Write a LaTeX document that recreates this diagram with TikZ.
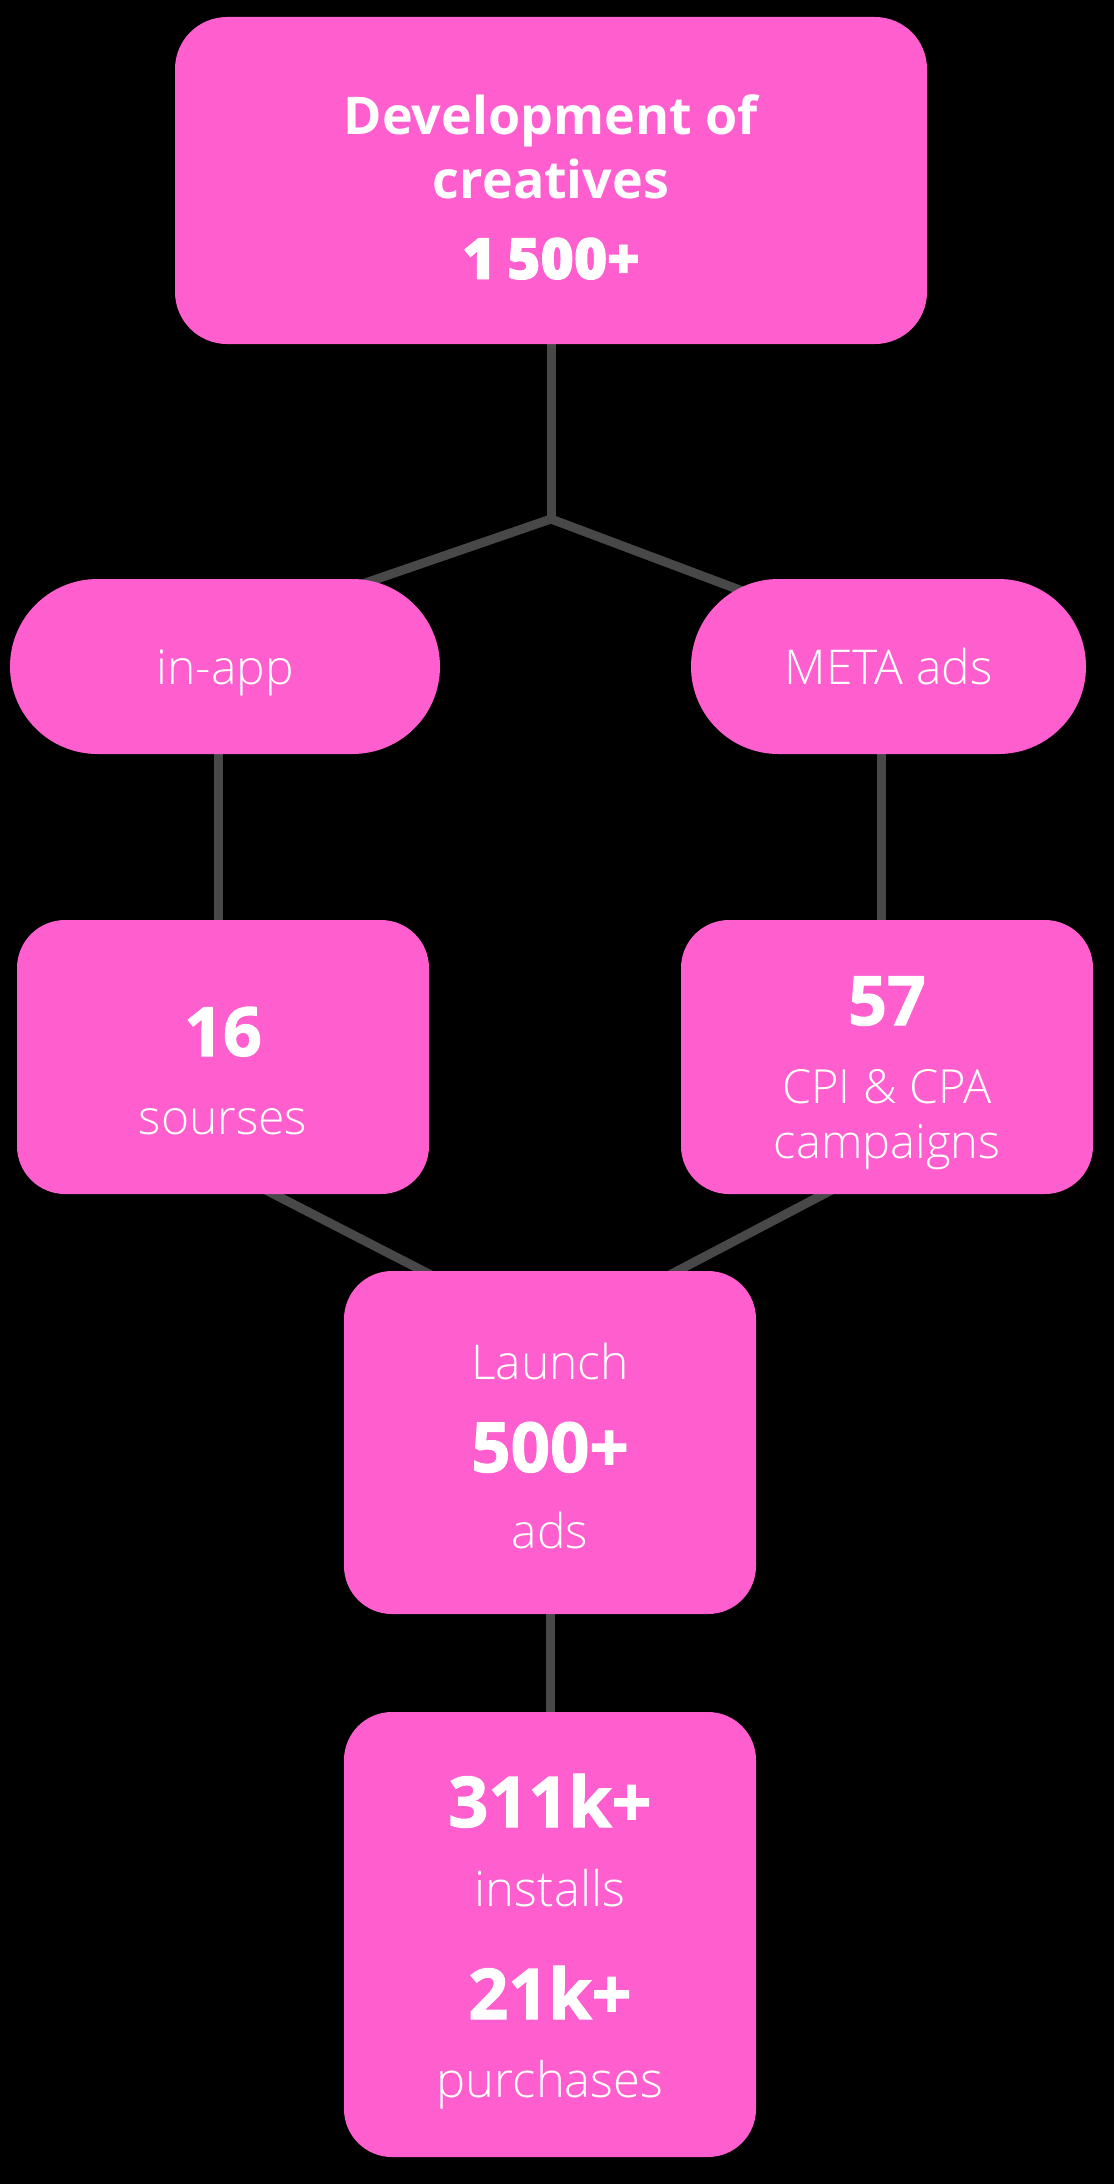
\documentclass[tikz,border=0pt]{standalone}
\usepackage{fontspec}
\setmainfont{Open Sans}[UprightFont=* Light, BoldFont=* Bold]
\newfontfamily\heavyfont{Open Sans Bold}[FakeBold=1.6]
\usepackage{tikz}
\usetikzlibrary{calc}
\usepackage{xcolor}

\definecolor{flamingo}{HTML}{FF5ECF}
\definecolor{wiregray}{HTML}{484848}
\pgfdeclarelayer{paper}
\pgfdeclarelayer{wires}
\pgfsetlayers{paper,wires,main}

% every line gets a fixed height, so the baselines sit where the picture has them
\newcommand{\row}[2]{\rule{0pt}{#1pt}\smash{#2}}
\newcommand{\downstrut}[1]{\rule[-#1pt]{0pt}{#1pt}}
\newcommand{\bignum}[1]{\fontsize{#1}{0}\heavyfont}
\newcommand{\thinline}[1]{\fontsize{#1}{0}\normalfont}
\newcommand{\gap}{\hspace{0.27em}}

\tikzset{
    card/.style={fill=flamingo, text=white, rounded corners=48pt, inner sep=0pt,
        align=center, text width=412pt,
        font={\baselineskip=0pt\lineskip=0pt\lineskiplimit=0pt}},
    pill/.style={card, rounded corners=87.5pt},
    wire/.style={draw=wiregray, line width=9pt},
}

\begin{document}
\begin{tikzpicture}[x=1pt, y=-1pt]
        \useasboundingbox (0,0) rectangle (1114,2184);
        \begin{pgfonlayer}{paper}
            \fill[black] (0,0) rectangle (1114,2184);
        \end{pgfonlayer}

        \node[card, rounded corners=52pt, text width=752pt] (creatives) at (551,180.5)
            {\thinline{52}\bfseries\row{117}{Development\gap of}\\
             \thinline{52}\bfseries\row{64}{creatives}\\
             \bignum{57}\row{81}{1\hspace{0.2em}500+}\downstrut{65}};

        \node[pill, text width=430pt] (inapp) at (225,666.5)
            {\thinline{48}\row{105}{in-app}\downstrut{70}};
        \node[pill, text width=395pt] (meta) at (888.5,666.5)
            {\thinline{48}\row{105}{META\gap ads}\downstrut{70}};

        \node[card] (sources) at (223,1057)
            {\bignum{68}\row{136}{16}\\
             \thinline{48}\row{78}{sourses}\downstrut{60}};
        \node[card] (campaigns) at (887,1057)
            {\bignum{68}\row{105}{57}\\
             \thinline{47}\row{78}{CPI\gap\&\gap CPA}\\
             \thinline{47}\row{55}{campaigns}\downstrut{36}};

        \node[card] (launch) at (550,1442.5)
            {\thinline{48}\row{108}{Launch}\\
             \bignum{69}\row{93}{500+}\\
             \thinline{48}\row{76}{ads}\downstrut{66}};

        \node[card] (results) at (550,1934.5)
            {\bignum{70}\row{115}{311k+}\\
             \thinline{49}\row{79}{installs}\\
             \bignum{70}\row{113}{21k+}\\
             \thinline{49}\row{78}{purchases}\downstrut{60}};

        \coordinate (fork) at (551,519);

        % connectors run under the cards
        \begin{pgfonlayer}{wires}
            \draw[wire] (creatives.south) -- (fork);
            \draw[wire, line join=round] ($(inapp.center)+(75,-61)$) -- (fork)
                -- ($(meta.center)+(-89,-54)$);
            \draw[wire] ([xshift=-7pt]inapp.center) -- ([xshift=-7pt]inapp.center |- sources.center);
            \draw[wire] ([xshift=-7.5pt]meta.center) -- ([xshift=-7.5pt]meta.center |- campaigns.center);
            \draw[wire] ($(sources.center)+(0,111)$) -- ($(launch.center)+(-50,-132)$);
            \draw[wire] ($(campaigns.center)+(0,104)$) -- ($(launch.center)+(50,-131)$);
            \draw[wire] (launch) -- (results);
        \end{pgfonlayer}
    \end{tikzpicture}
\end{document}
